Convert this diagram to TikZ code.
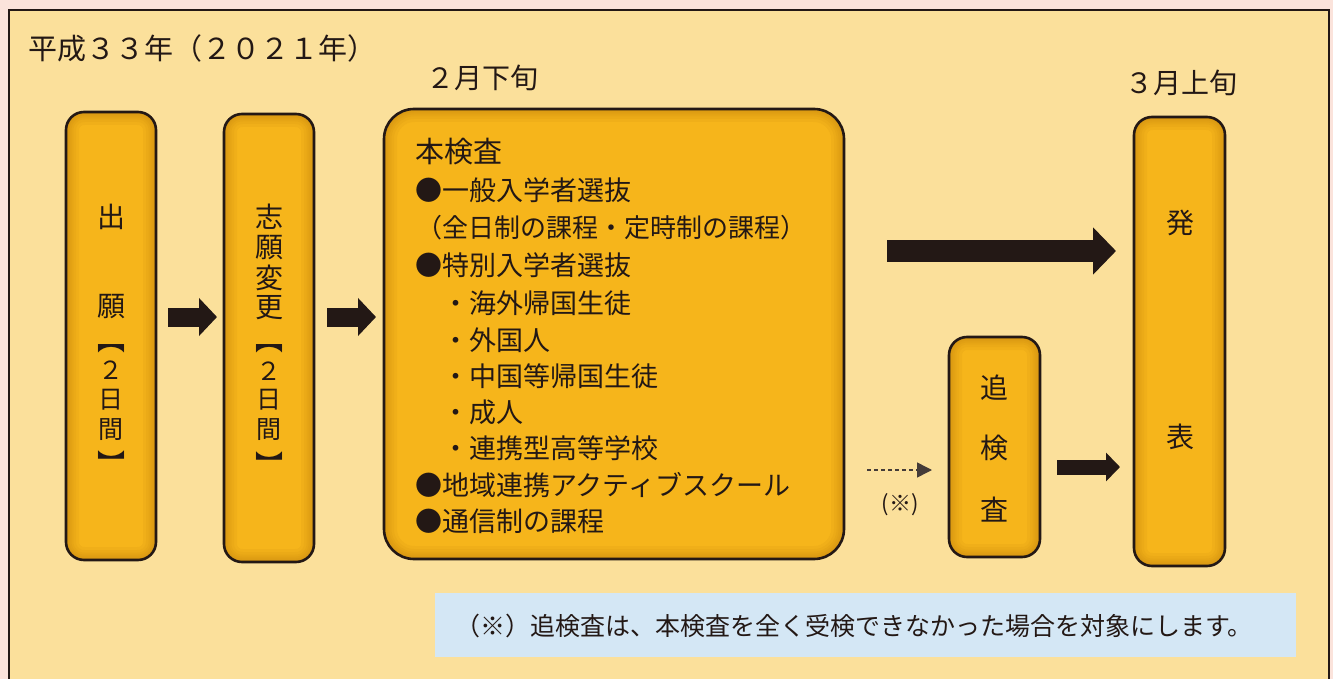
\documentclass[tikz,border=0pt]{standalone}
\usepackage{fontspec}
\newfontfamily\jp{Noto Sans CJK JP}
\usetikzlibrary{arrows.meta}
\definecolor{bgpink}{HTML}{FBE3DB}
\definecolor{panel}{HTML}{FBE09B}
\definecolor{boxfill}{HTML}{F6B51B}
\definecolor{boxedge}{HTML}{B9780A}
\definecolor{ink}{HTML}{231815}
\definecolor{noteblue}{HTML}{D4E7F5}
\begin{document}
\begin{tikzpicture}[x=1pt,y=-1pt,
  obox/.style={draw=ink, line width=2.6pt, fill=boxfill, rounded corners=#1, inner sep=0pt,
    path picture={
      \foreach \w in {26,20,15,11,7,4}{
      \draw[boxedge, opacity=.09, line width=\w pt, rounded corners=#1]
        (path picture bounding box.south west) rectangle (path picture bounding box.north east);}
    }},
  lbl/.style={font=\jp\fontsize{28}{28}\selectfont, text=ink, inner sep=0pt},
  sml/.style={font=\jp\fontsize{25}{25}\selectfont, text=ink, inner sep=0pt},
  line/.style={font=\jp\fontsize{27}{27}\selectfont, text=ink, inner sep=0pt, anchor=west},
  blk/.style={draw=ink, line width=#1},
  ]
\useasboundingbox (0,0) rectangle (1333,679);
\clip (0,0) rectangle (1333,679);
\fill[bgpink] (0,0) rectangle (1333,679);
\filldraw[fill=panel, draw=ink, line width=2.6pt] (9,10) rectangle (1329,700);

% title texts
\node[lbl, font=\jp\fontsize{29}{29}\selectfont, anchor=west] (title) at (28,48) {平成３３年（２０２１年）};
\node[lbl] (feb) at (482,78) {２月下旬};
\node[lbl] (mar) at (1181,83) {３月上旬};

% boxes
\node[obox=18pt, minimum width=90pt, minimum height=448pt] (b1) at (111,336) {};
\node[obox=18pt, minimum width=90pt, minimum height=448pt] (b2) at (269,338) {};
\node[obox=30pt, minimum width=460pt, minimum height=450pt] (b3) at (614,334) {};
\node[obox=18pt, minimum width=91pt, minimum height=220pt] (b4) at (994.5,447) {};
\node[obox=18pt, minimum width=91pt, minimum height=449pt] (b5) at (1179.5,341.5) {};

% box 1 text
\node[lbl] (b1a) at (111,217) {出};
\node[lbl] (b1b) at (111,307) {願};
\node[lbl] (b1c) at (111,349) {︻};
\node[sml] (b1d) at (111,370) {２};
\node[sml] (b1e) at (111,400) {日};
\node[sml] (b1f) at (111,430) {間};
\node[lbl] (b1g) at (111,463) {︼};

% box 2 text
\node[lbl] (b2a) at (269,217) {志};
\node[lbl] (b2b) at (269,248) {願};
\node[lbl] (b2c) at (269,278) {変};
\node[lbl] (b2d) at (269,308) {更};
\node[lbl] (b2e) at (269,349) {︻};
\node[sml] (b2f) at (269,371) {２};
\node[sml] (b2g) at (269,400) {日};
\node[sml] (b2h) at (269,430) {間};
\node[lbl] (b2i) at (269,464) {︼};

% box 3 text
\node[line, font=\jp\fontsize{29}{29}\selectfont] (l1) at (415,152) {本検査};
\node[line] (l2) at (415,190) {●一般入学者選抜};
\node[line, font=\jp\fontsize{26}{26}\selectfont] (l3) at (416,228) {（全日制の課程・定時制の課程）};
\node[line] (l4) at (415,265) {●特別入学者選抜};
\node[line] (l5) at (442,303) {・海外帰国生徒};
\node[line] (l6) at (442,340) {・外国人};
\node[line] (l7) at (442,376) {・中国等帰国生徒};
\node[line] (l8) at (442,412) {・成人};
\node[line] (l9) at (442,448) {・連携型高等学校};
\node[line] (l10) at (415,485) {●地域連携アクティブスクール};
\node[line] (l11) at (415,521) {●通信制の課程};

% box 4 and 5 text
\node[lbl] (b4a) at (994.5,388) {追};
\node[lbl] (b4b) at (994.5,448) {検};
\node[lbl] (b4c) at (994.5,510) {査};
\node[lbl] (b5a) at (1180,223) {発};
\node[lbl] (b5b) at (1180,437) {表};

% arrow end points
\coordinate (a1s) at (168,317);
\coordinate (a1e) at (217,317);
\coordinate (a2s) at (327,317);
\coordinate (a2e) at (376,317);
\coordinate (a3s) at (887,251);
\coordinate (a3e) at (1116,251);
\coordinate (a4s) at (1057,467);
\coordinate (a4e) at (1120,467);
\coordinate (a5s) at (867,470);
\coordinate (a5e) at (932,470);

\draw[blk=19pt, -{Triangle[length=18pt,width=37pt]}] (a1s) -- (a1e);
\draw[blk=19pt, -{Triangle[length=18pt,width=37pt]}] (a2s) -- (a2e);
\draw[blk=22pt, -{Triangle[length=23pt,width=46pt]}] (a3s) -- (a3e);
\draw[blk=15pt, -{Triangle[length=14pt,width=28pt]}] (a4s) -- (a4e);
\draw[draw=ink!85, line width=1.5pt, dash pattern=on 4pt off 3pt,
      -{Triangle[length=15pt,width=15pt]}] (a5s) -- (a5e);
\node[sml, font=\jp\fontsize{22}{22}\selectfont] (ast) at (900,505) {(※)};

% note
\node[fill=noteblue, minimum width=861pt, minimum height=64pt, inner sep=0pt] (note) at (865.5,625) {};
\node[sml] (notetext) at (854,626) {（※）追検査は、本検査を全く受検できなかった場合を対象にします。};
\end{tikzpicture}
\end{document}
